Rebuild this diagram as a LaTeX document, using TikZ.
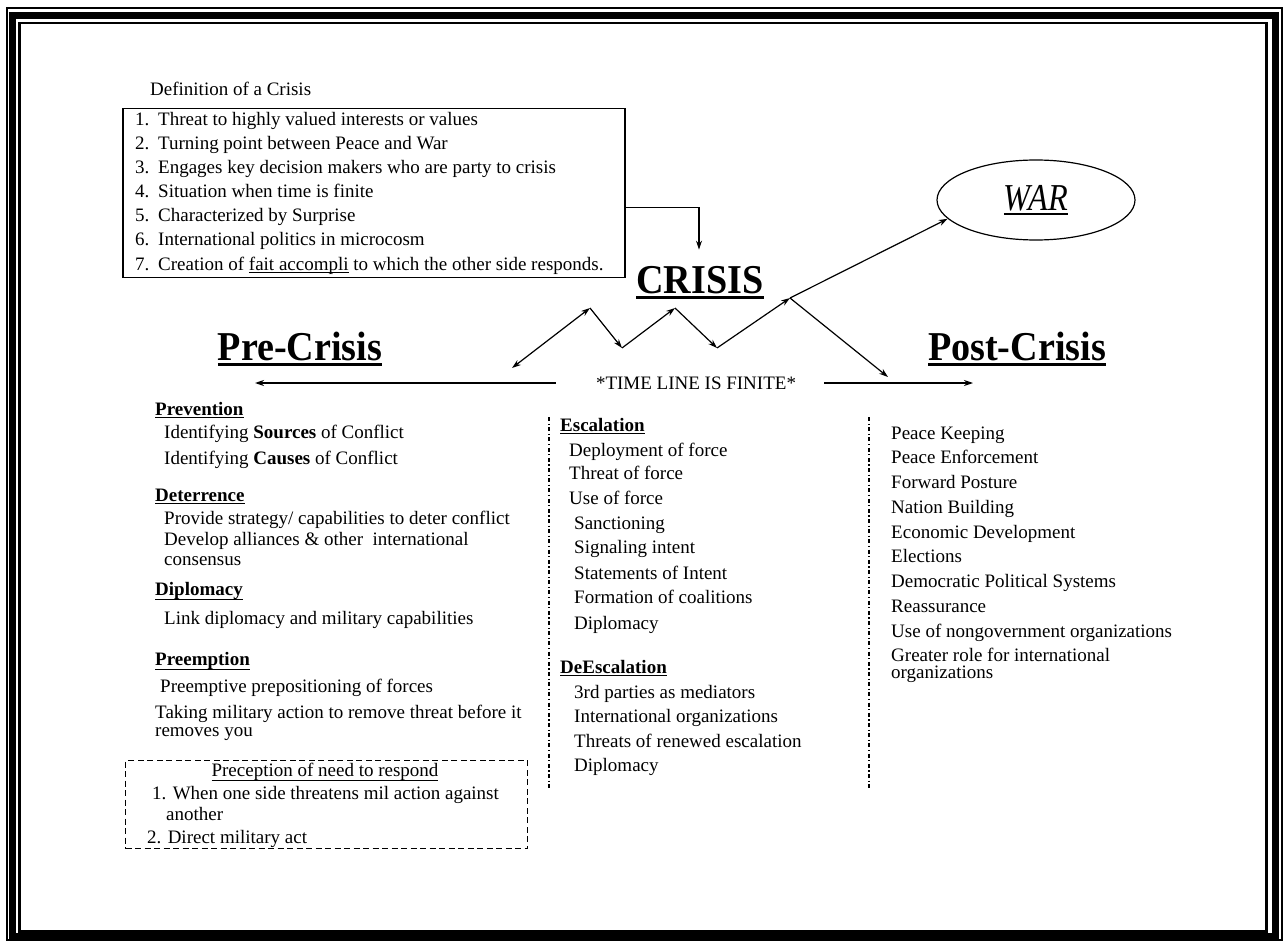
\documentclass[tikz,border=0pt]{standalone}
\usepackage{fontspec}
\setmainfont{Liberation Serif}
\usepackage{graphicx}
\usetikzlibrary{arrows.meta,shapes.geometric,calc}

\newsavebox{\ulsave}
% underline with thickness #1 at depth #2
\newcommand{\undl}[3]{\sbox{\ulsave}{#3}\rlap{\rule[-#2]{\wd\ulsave}{#1}}\usebox{\ulsave}}
\newcommand{\bighead}[1]{\scalebox{0.93}[1]{\undl{2.8pt}{6pt}{#1}}}

\begin{document}
\begin{tikzpicture}[x=1pt,y=-1pt,
    txt/.style={anchor=base west,inner sep=0pt,font=\fontsize{19}{23}\selectfont},
    subhd/.style={txt,font=\fontsize{19}{23}\selectfont\bfseries},
    bighd/.style={anchor=base,inner sep=0pt,font=\fontsize{41}{46}\selectfont\bfseries},
    arr/.style={-{Stealth[length=9pt,width=6pt]},line width=1.2pt},
    dblarr/.style={{Stealth[length=9pt,width=6pt]}-{Stealth[length=9pt,width=6pt]},line width=1.2pt},
    sepline/.style={line width=1.1pt,dash pattern=on 4pt off 2.5pt on 1.2pt off 2.5pt}]
    \useasboundingbox (0,0) rectangle (1287,941);
    % triple frame
    \draw[line width=2pt] (6.5,8.5) rectangle (1281.5,940);
    \draw[line width=7pt] (12.5,15.5) rectangle (1275,936.5);
    \draw[line width=2.5pt] (19.5,23) rectangle (1266.5,931.5);

    % definition box
    \node[txt] (deftitle) at (150,96) {Definition of a Crisis};
    \node[draw,line width=1.5pt,anchor=north west,inner sep=0pt,minimum width=502pt,minimum height=169pt] (defbox) at (122,108) {};
    \foreach \t [count=\i] in {Threat to highly valued interests or values,
        Turning point between Peace and War,
        Engages key decision makers who are party to crisis,
        Situation when time is finite,
        Characterized by Surprise,
        International politics in microcosm,
        {Creation of \undl{1pt}{3pt}{fait accompli} to which the other side responds.}}
        \node[txt] (def\i) at (135,{102+24*\i}) {\makebox[23pt][l]{\i.}\t};

    % headings
    \node[bighd] (crisis) at (700,293) {\bighead{CRISIS}};
    \node[bighd] (precrisis) at (300,360) {\bighead{Pre-Crisis}};
    \node[bighd] (postcrisis) at (1017,360) {\bighead{Post-Crisis}};
    \node[draw,ellipse,line width=1.2pt,minimum width=198pt,minimum height=80pt,font=\fontsize{38}{42}\selectfont\itshape] (war) at (1036,200) {\scalebox{0.85}[1]{\undl{2pt}{5pt}{WAR}}};
    \draw[arr] ([yshift=-14pt]defbox.east) -| ([xshift=-1pt,yshift=16pt]crisis.north);

    % escalation path
    \coordinate (z0) at (512,368);
    \coordinate (z1) at (590,308);
    \coordinate (z2) at (622,348);
    \coordinate (z3) at (675,308);
    \coordinate (z4) at (717,348);
    \coordinate (z5) at (790,298);
    \coordinate (zend) at (888,377);
    \draw[dblarr] (z0) -- (z1);
    \draw[arr] (z1) -- (z2);
    \draw[arr] (z2) -- (z3);
    \draw[arr] (z3) -- (z4);
    \draw[arr] (z4) -- (z5);
    \draw[arr] (z5) -- (war.192);
    \draw[arr] (z5) -- (zend);

    % time line
    \node[inner sep=0pt,font=\fontsize{19}{22}\selectfont] (timeline) at (696,383) {*TIME LINE IS FINITE*};
    \coordinate (tleft) at (255,383);
    \coordinate (tright) at (973,383);
    \draw[arr] ([xshift=-40pt]timeline.west) -- (tleft);
    \draw[arr] ([xshift=28pt]timeline.east) -- (tright);

    % pre-crisis column
    \node[subhd] (prev) at (155,415) {\undl{1.2pt}{3pt}{Prevention}};
    \node[txt] (prev1) at (164,438) {Identifying \textbf{Sources} of Conflict};
    \node[txt] (prev2) at (164,464) {Identifying \textbf{Causes} of Conflict};
    \node[subhd] (deter) at (155,501) {\undl{1.2pt}{3pt}{Deterrence}};
    \node[txt] (deter1) at (164,524) {Provide strategy/ capabilities to deter conflict};
    \node[txt] (deter2) at (164,545) {Develop alliances \& other\ \ international};
    \node[txt] (deter3) at (164,565) {consensus};
    \node[subhd] (dipl) at (155,595) {\undl{1.2pt}{5pt}{Diplomacy}};
    \node[txt] (dipl1) at (164,624) {Link diplomacy and military capabilities};
    \node[subhd] (preempt) at (155,665) {\undl{1.2pt}{5pt}{Preemption}};
    \node[txt] (preempt1) at (160,692) {Preemptive prepositioning of forces};
    \node[txt] (preempt2) at (155,718) {Taking military action to remove threat before it};
    \node[txt] (preempt3) at (155,736) {removes you};
    \node[draw,line width=1.2pt,dash pattern=on 6pt off 3.5pt,anchor=north west,inner sep=0pt,minimum width=402pt,minimum height=88pt] (percbox) at (125,760) {};
    \node[txt,anchor=base] (perc) at (325,776) {\undl{1pt}{5pt}{Preception of need to respond}};
    \node[txt] (perc1) at (152,799) {1. When one side threatens mil action against};
    \node[txt] (perc2) at (166,820) {another};
    \node[txt] (perc3) at (147,843) {2. Direct military act};

    % crisis column
    \draw[sepline] (549,417) -- (549,790);
    \node[subhd] (esc) at (560,431) {\undl{1.2pt}{3pt}{Escalation}};
    \foreach \t/\x/\y [count=\i] in {Deployment of force/569/456, Threat of force/569/479,
        Use of force/569/504, Sanctioning/574/529, Signaling intent/574/553,
        Statements of Intent/574/579, Formation of coalitions/574/603, Diplomacy/574/629}
        \node[txt] (esc\i) at (\x,\y) {\t};
    \node[subhd] (desc) at (560,673) {\undl{1.2pt}{3pt}{DeEscalation}};
    \foreach \t/\y [count=\i] in {3rd parties as mediators/698, International organizations/722,
        Threats of renewed escalation/747, Diplomacy/771}
        \node[txt] (desc\i) at (574,\y) {\t};

    % post-crisis column
    \draw[sepline] (869,417) -- (869,790);
    \foreach \t/\y [count=\i] in {Peace Keeping/439, Peace Enforcement/463, Forward Posture/488,
        Nation Building/513, Economic Development/538, Elections/562,
        Democratic Political Systems/587, Reassurance/612,
        Use of nongovernment organizations/637, Greater role for international/661,
        organizations/678}
        \node[txt] (post\i) at (891,\y) {\t};
\end{tikzpicture}
\end{document}
